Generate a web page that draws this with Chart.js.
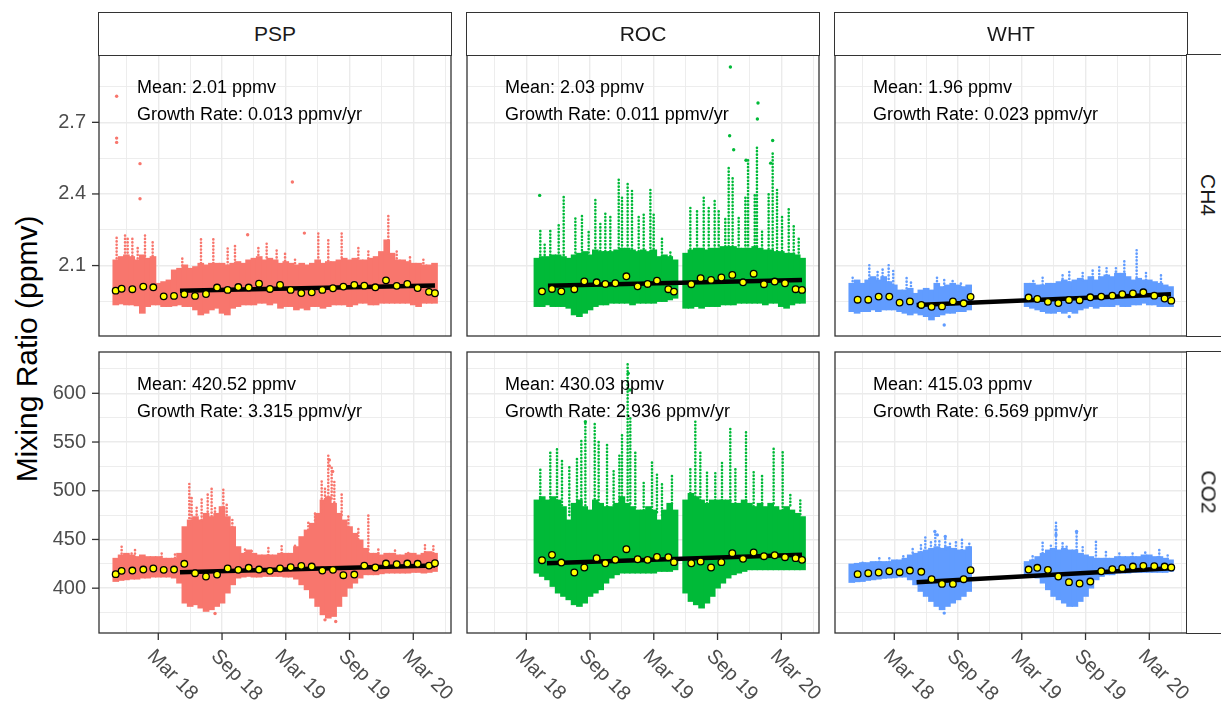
<!DOCTYPE html>
<html>
<head>
<meta charset="utf-8">
<script src="https://cdn.jsdelivr.net/npm/chart.js@4.4.1/dist/chart.umd.min.js"></script>
<style>
  html, body { margin: 0; padding: 0; background: #fff; }
  #page { position: relative; width: 1221px; height: 708px; overflow: hidden;
          font-family: "Liberation Sans", Arial, sans-serif; }
  #page canvas { position: absolute; }
  .strip { position: absolute; box-sizing: border-box; border: 1.3px solid #333; background: #fff;
           color: #1a1a1a; font-size: 21px; display: flex; align-items: center; justify-content: center; }
  .strip.side span { transform: rotate(90deg); white-space: nowrap; }
  #ytitle { position: absolute; left: 27px; top: 349px; transform: translate(-50%, -50%) rotate(-90deg);
            font-size: 30px; color: #000; white-space: nowrap; }
</style>
</head>
<body>
<div id="page"><div id="ytitle">Mixing Ratio (ppmv)</div></div>
<script>
// x values are months counted from Jan 2017 (Mar 18 = 14)
const stations = ['PSP', 'ROC', 'WHT'];
const gases = ['CH4', 'CO2'];
const stationColors = ['#F8766D', '#00BA38', '#619CFF'];

const xTickMonths = [11, 14, 17, 20, 23, 26, 29, 32, 35, 38, 41];
const xMajorMonths = [14, 20, 26, 32, 38];
const xMajorLabels = ['Mar 18', 'Sep 18', 'Mar 19', 'Sep 19', 'Mar 20'];
const ch4Ticks = [1.95, 2.1, 2.25, 2.4, 2.55, 2.7, 2.85];
const ch4Major = [2.1, 2.4, 2.7];
const co2Ticks = [375, 400, 425, 450, 475, 500, 525, 550, 575, 600, 625];
const co2Major = [400, 450, 500, 550, 600];

// half-month bins for the envelope of the raw observations
const bins = [10,10.5,11,11.5,12,12.5,13,13.5,14,14.5,15,15.5,16,16.5,17,17.5,18,18.5,19,19.5,20,20.5,
  21,21.5,22,22.5,23,23.5,24,24.5,25,25.5,26,26.5,27,27.5,28,28.5,29,29.5,30,30.5,31,31.5,32,32.5,
  33,33.5,34,34.5,35,35.5,36,36.5,37,37.5,38,38.5,39,39.5,40];
const N10 = [null,null,null,null,null,null,null,null,null,null];

const pspCh4High = [2.124,2.138,2.145,2.138,2.124,2.145,2.131,2.138,2.026,2.033,2.040,2.082,2.089,2.103,2.089,2.096,
  2.110,2.103,2.110,2.110,2.110,2.103,2.110,2.117,2.110,2.124,2.131,2.138,2.124,2.131,2.124,2.110,2.117,2.110,
  2.103,2.110,2.103,2.110,2.124,2.110,2.117,2.117,2.124,2.131,2.124,2.131,2.124,2.124,2.131,2.138,2.159,2.208,
  2.152,2.124,2.124,2.117,2.110,2.110,2.103,2.103,2.110];
const pspCh4Low = [1.935,1.939,1.935,1.935,1.931,1.900,1.928,1.935,1.935,1.928,1.928,1.931,1.935,1.928,1.928,1.914,
  1.893,1.900,1.914,1.921,1.900,1.893,1.921,1.928,1.935,1.935,1.935,1.942,1.942,1.935,1.942,1.921,1.928,1.928,
  1.914,1.921,1.914,1.928,1.928,1.921,1.928,1.935,1.935,1.935,1.928,1.935,1.942,1.942,1.935,1.935,1.942,1.942,
  1.942,1.942,1.942,1.942,1.935,1.928,1.942,1.942,1.942];
const rocCh4High = N10.concat([2.131,2.138,2.138,2.145,2.145,2.138,2.131,2.145,2.152,2.159,2.145,2.166,2.159,2.159,
  2.159,2.166,2.173,2.173,2.166,2.159,2.166,2.159,2.166,2.138,2.145,2.138,2.124,null,2.152,2.166,2.173,2.173,2.166,
  2.173,2.173,2.180,2.180,2.180,2.173,2.173,2.173,2.180,2.173,2.166,2.166,2.159,2.159,2.152,2.152,2.145,2.131]);
const rocCh4Low = N10.concat([1.928,1.928,1.935,1.928,1.928,1.928,1.921,1.893,1.886,1.900,1.914,1.928,1.935,1.935,
  1.942,1.942,1.942,1.942,1.935,1.942,1.942,1.942,1.942,1.949,1.949,1.956,1.963,null,1.921,1.921,1.928,1.921,1.928,
  1.928,1.928,1.935,1.935,1.935,1.942,1.942,1.942,1.942,1.942,1.935,1.942,1.942,1.928,1.921,1.935,1.942,1.942]);
const whtCh4High = [2.026,2.040,2.026,2.040,2.054,2.040,2.054,2.033,2.019,1.998,1.998,2.005,1.984,1.998,2.005,1.998,
  2.026,2.012,2.019,2.026,2.019,2.012,2.019].concat(N10, [2.026,2.026,2.019,2.019,2.026,2.026,2.033,2.040,2.033,
  2.040,2.047,2.040,2.054,2.040,2.054,2.061,2.054,2.068,2.068,2.054,2.040,2.047,2.040,2.040,2.033,2.026,2.019,2.012]);
const whtCh4Low = [1.907,1.900,1.907,1.907,1.914,1.907,1.914,1.914,1.914,1.907,1.900,1.893,1.900,1.893,1.886,1.872,
  1.886,1.893,1.900,1.900,1.907,1.907,1.914].concat(N10, [1.928,1.921,1.914,1.907,1.900,1.900,1.907,1.900,1.907,
  1.900,1.914,1.921,1.928,1.921,1.928,1.928,1.928,1.935,1.928,1.928,1.935,1.935,1.942,1.935,1.935,1.928,1.928,1.928]);

const pspCo2High = [430.8,434.2,435.9,434.2,432.5,434.2,432.5,432.5,432.5,430.8,430.8,430.8,435.9,463.2,470.1,473.5,
  470.1,476.9,473.5,476.9,483.8,473.5,463.2,442.7,435.9,439.3,435.9,434.2,434.2,434.2,434.2,435.9,435.9,435.9,
  442.7,453.0,459.8,466.7,476.9,490.6,494.0,487.2,476.9,470.1,463.2,456.4,449.6,441.0,435.9,435.9,434.2,435.9,
  435.9,434.2,434.2,435.9,435.9,434.2,435.9,437.6,435.9];
const pspCo2Low = [406.8,407.9,408.5,409.2,409.2,410.3,410.3,411.3,411.3,411.3,411.3,410.3,405.1,384.6,381.2,382.9,
  379.5,376.1,377.8,381.2,384.6,394.9,403.4,410.3,411.3,412.0,411.3,411.3,412.0,412.0,412.0,412.0,411.3,411.3,
  409.2,403.4,398.3,389.7,381.2,372.6,369.2,370.9,381.2,391.5,400.0,405.1,410.3,413.7,413.7,413.7,414.7,415.4,
  415.4,415.4,415.4,415.4,416.1,416.1,415.4,416.1,417.1];
const rocCo2High = N10.concat([490.6,494.0,490.6,494.0,490.6,483.8,470.1,487.2,490.6,483.8,480.3,490.6,487.2,483.8,
  483.8,487.2,494.0,487.2,483.8,480.3,480.3,483.8,480.3,470.1,480.3,487.2,480.3,null,490.6,497.4,494.0,490.6,487.2,
  490.6,490.6,490.6,490.6,487.2,487.2,490.6,487.2,483.8,487.2,483.8,487.2,483.8,480.3,483.8,480.3,476.9,473.5]);
const rocCo2Low = N10.concat([415.4,412.0,408.5,401.7,394.9,391.5,388.0,382.9,381.2,384.6,391.5,394.9,398.3,405.1,
  410.3,413.7,415.4,415.4,415.4,415.4,415.4,415.4,415.4,417.1,417.1,417.1,418.8,null,394.9,386.3,382.9,379.5,384.6,
  391.5,400.0,405.1,410.3,413.7,415.4,417.1,418.8,418.8,418.8,418.8,418.8,418.8,418.8,418.8,418.8,418.8,418.8]);
const whtCo2High = [424.9,425.6,426.3,426.3,427.4,427.4,427.4,427.4,429.1,429.1,430.8,434.2,435.9,437.6,439.3,441.0,
  442.7,441.0,442.7,441.0,439.3,439.3,442.7].concat(N10, [427.4,429.1,432.5,435.9,439.3,441.0,439.3,441.0,439.3,
  439.3,435.9,434.2,432.5,430.8,430.8,430.8,430.8,432.5,432.5,432.5,432.5,432.5,434.2,434.2,432.5,432.5,430.8,429.1]);
const whtCo2Low = [405.8,406.5,406.8,407.9,408.5,409.2,410.0,410.3,410.6,411.3,411.3,408.5,403.4,396.6,391.5,386.3,
  381.2,377.8,381.2,384.6,388.0,391.5,396.6].concat(N10, [413.7,412.6,410.3,405.1,398.3,391.5,388.0,384.6,381.2,
  381.2,386.3,391.5,400.0,408.5,412.0,413.7,413.7,415.4,415.4,415.4,416.1,416.1,416.1,416.1,416.1,416.1,416.1,417.1]);

// streaks of high readings above the dense band: [month, from, to]
const pspCh4Streaks = [[10.08,2.13,2.222],[10.87,2.14,2.229],[11.12,2.14,2.215],[11.56,2.14,2.222],[12.06,2.13,2.18],
  [12.75,2.14,2.238],[13.47,2.14,2.205],[16.26,2.10,2.14],[18.02,2.11,2.222],[19.18,2.11,2.222],[20.53,2.10,2.18],
  [21.22,2.11,2.194],[23.42,2.13,2.18],[24.2,2.12,2.205],[25.14,2.12,2.166],[25.93,2.12,2.152],[26.87,2.11,2.138],
  [29.06,2.12,2.243],[30.0,2.12,2.208],[31.26,2.12,2.236],[32.83,2.13,2.173],[33.77,2.13,2.159],[35.65,2.15,2.32],
  [36.44,2.13,2.166],[37.69,2.12,2.138],[38.95,2.11,2.138]];
const rocCh4Streaks = [[15.32,2.13,2.25],[15.73,2.13,2.194],[16.26,2.13,2.25],[17.05,2.14,2.278],[17.52,2.13,2.39],
  [18.62,2.14,2.306],[19.24,2.15,2.313],[19.87,2.14,2.25],[20.5,2.16,2.376],[20.97,2.16,2.278],[21.44,2.16,2.32],
  [21.91,2.16,2.306],[22.7,2.16,2.466],[23.01,2.17,2.39],[23.54,2.17,2.441],[23.95,2.17,2.417],[24.58,2.16,2.306],
  [25.05,2.17,2.32],[25.68,2.16,2.417],[25.99,2.17,2.32],[26.77,2.14,2.222],[27.56,2.14,2.166],[29.44,2.17,2.348],
  [30.07,2.17,2.334],[30.7,2.17,2.39],[31.17,2.17,2.348],[31.73,2.17,2.383],[32.11,2.17,2.334],[32.73,2.18,2.306],
  [33.05,2.18,2.515],[33.42,2.18,2.473],[33.99,2.17,2.306],[34.62,2.17,2.39],[34.87,2.17,2.543],[35.5,2.18,2.403],
  [35.71,2.18,2.602],[36.19,2.17,2.243],[36.81,2.17,2.403],[37.19,2.17,2.571],[37.6,2.16,2.417],[38.07,2.16,2.306],
  [38.7,2.15,2.348],[39.17,2.15,2.278],[39.64,2.14,2.222]];
const whtCh4Streaks = [[10.08,2.02,2.054],[11.65,2.03,2.103],[12.43,2.03,2.082],[12.9,2.04,2.089],[13.47,2.03,2.103],
  [13.9,2.02,2.082],[15.16,1.99,2.054],[15.57,2.0,2.04],[18.02,2.02,2.054],[18.7,2.01,2.04],[19.49,2.02,2.04],
  [20.27,2.01,2.026],[27.08,2.02,2.04],[27.96,2.02,2.054],[29.84,2.03,2.068],[30.47,2.03,2.082],[31.73,2.04,2.082],
  [32.67,2.05,2.082],[33.29,2.05,2.096],[33.98,2.06,2.089],[34.86,2.06,2.096],[35.65,2.06,2.124],[36.81,2.05,2.166],
  [37.69,2.04,2.082],[39.1,2.03,2.068]];
const pspCo2Streaks = [[10.55,432,442.7],[11.49,432,437.6],[11.81,432,439.3],[14.32,432,435.9],[15.57,431,435.9],
  [16.92,465,509.4],[17.14,468,494.0],[17.61,472,483.8],[18.08,470,494.0],[18.65,475,497.4],[19.02,474,502.6],
  [19.34,475,483.8],[20.12,480,504.3],[20.44,475,487.2],[20.97,463,470.0],[22.16,436,442.7],[22.79,438,441.0],
  [24.36,434,442.7],[25.61,436,444.4],[26.87,440,446.2],[28.12,460,470.0],[28.75,466,476.9],[29.38,478,511.1],
  [29.69,488,504.3],[30.0,494,538.5],[30.32,492,524.8],[30.57,488,511.1],[31.26,475,497.4],[31.89,463,476.9],
  [32.83,450,463.2],[33.77,436,475.2],[34.71,436,442.7],[36.28,435,441.0],[37.53,436,439.3],[39.1,437,444.4],
  [39.89,436,446.2]];
const rocCo2Streaks = [[15.32,490,524.8],[16.26,490,541.9],[16.89,490,545.3],[17.36,485,531.6],[18.05,475,524.8],
  [18.77,487,535.0],[19.18,488,552.1],[19.56,485,570.9],[20.44,488,569.2],[20.81,487,552.1],[21.6,484,548.7],
  [22.22,485,521.4],[22.76,487,538.5],[23.01,494,559.0],[23.54,490,630.8],[23.79,487,576.1],[24.26,483,541.9],
  [25.05,480,511.1],[25.83,480,531.6],[26.3,478,517.9],[26.77,475,507.7],[27.71,487,517.9],[29.44,494,524.8],
  [29.91,494,570.9],[30.38,490,541.9],[31.01,487,521.4],[31.79,490,521.4],[32.42,490,531.6],[33.2,490,565.8],
  [33.68,487,524.8],[34.68,490,562.4],[35.4,484,521.4],[36.19,487,517.9],[37.28,487,543.6],[38.13,480,541.9],
  [38.85,485,497.4],[39.79,476,490.6]];
const whtCo2Streaks = [[11.02,426,429.1],[12.59,427,432.5],[13.53,427,430.8],[14.85,429,435.9],[15.73,433,441.0],
  [16.51,437,444.4],[16.92,438,453.0],[17.45,440,449.6],[17.86,441,458.1],[18.24,441,449.6],[18.8,440,453.0],
  [19.24,442,447.9],[19.8,440,449.6],[20.37,439,451.3],[21.06,442,447.9],[27.02,429,435.9],[27.96,436,447.9],
  [28.74,440,446.2],[29.22,439,468.4],[29.84,439,447.9],[30.22,439,444.4],[31.16,439,458.1],[31.73,435,442.7],
  [32.98,430,449.6],[33.92,430,439.3],[35.18,432,437.6],[36.43,432,435.9],[37.62,433,437.6],[38.94,432,439.3],
  [39.73,430,434.2]];

// isolated readings: [month, value]
const pspCh4Outliers = [[10.08,2.809],[10.08,2.634],[10.08,2.616],[12.28,2.527],[12.28,2.38],[26.62,2.45],[27.75,2.236],[22.41,2.229]];
const rocCh4Outliers = [[15.26,2.394],[33.21,2.932],[35.81,2.781],[35.75,2.714],[33.14,2.644],[33.52,2.585],
  [34.68,2.541],[37.19,2.624],[37.0,2.529]];
const whtCh4Outliers = [[18.7,1.851],[30.47,1.886]];
const pspCo2Outliers = [[30.1,531.6],[30.1,525.5],[30.41,519.7],[29.69,367.5],[30.7,365.8],[19.34,374.0]];
const rocCo2Outliers = [[23.6,620.5],[23.75,603.4],[19.56,570.9]];
const whtCo2Outliers = [[17.82,458.1],[18.05,454.7],[18.8,453.0],[29.22,459.8],[29.22,454.7],[31.16,458.1],[18.7,374.4]];

// monthly means
const pspMonths = [9.99,10.55,11.56,12.59,13.53,14.51,15.48,16.45,17.46,18.49,19.53,20.53,21.53,22.51,23.48,24.51,
  25.46,26.46,27.46,28.44,29.44,30.44,31.42,32.45,33.39,34.43,35.43,36.44,37.44,38.41,39.48,40.04];
const rocMonths = [15.48,16.42,17.3,18.52,19.46,20.62,21.44,22.38,23.42,24.48,25.42,26.3,27.37,27.9,29.53,30.41,
  31.39,32.36,33.39,34.4,35.4,36.37,37.38,38.35,39.35,39.95];
const whtMonths = [10.55,11.55,12.53,13.53,14.5,15.47,16.54,17.51,18.49,19.52,20.53,21.18,26.64,27.46,28.46,29.44,
  30.44,31.44,32.45,33.48,34.52,35.46,36.46,37.44,38.47,39.44,40.07];
const pspCh4Mean = [1.995,2.003,2.001,2.012,2.009,1.971,1.973,1.98,1.973,1.981,2.008,1.998,2.01,2.008,2.024,2.002,
  2.019,1.998,1.985,1.988,1.998,2.005,2.012,2.019,2.016,2.009,2.038,2.015,2.023,2.006,1.99,1.984];
const rocCh4Mean = [1.992,2.002,1.992,2.001,2.034,2.03,2.023,2.026,2.055,2.013,2.023,2.037,2.001,1.991,2.022,2.047,
  2.04,2.05,2.061,2.03,2.066,2.022,2.033,2.026,2.001,1.998];
const whtCh4Mean = [1.957,1.957,1.97,1.97,1.945,1.95,1.935,1.927,1.929,1.95,1.942,1.969,1.966,1.96,1.948,1.943,
  1.956,1.955,1.967,1.97,1.974,1.98,1.983,1.988,1.974,1.962,1.953];
const pspCo2Mean = [414.4,417.8,418.1,419.1,420.2,418.8,419.1,425.0,415.4,412.0,414.0,420.2,418.8,420.9,419.1,417.8,
  420.2,421.5,422.9,422.2,418.1,418.8,413.3,414.0,423.2,421.2,425.3,424.6,425.3,425.0,423.2,425.6];
const rocCo2Mean = [428.7,434.2,426.3,416.1,421.2,430.8,425.6,429.1,440.0,429.7,429.1,432.1,431.8,426.7,425.6,427.4,
  421.2,426.7,435.9,430.1,436.6,432.8,433.8,431.8,430.8,429.1];
const whtCo2Mean = [414.4,415.4,416.1,417.4,416.4,418.1,416.8,409.2,404.4,404.4,409.2,418.5,419.1,420.9,418.8,412.0,
  406.2,404.8,406.8,417.4,419.5,420.5,422.2,422.9,422.6,422.2,421.2];

// fitted trend lines: start and end
const pspCh4TrendX = [16.04, 40.04], pspCh4TrendY = [1.995, 2.017];
const rocCh4TrendX = [16.04, 39.95], rocCh4TrendY = [2.015, 2.040];
const whtCh4TrendX = [16.10, 40.04], whtCh4TrendY = [1.935, 1.980];
const pspCo2TrendX = [16.04, 40.04], pspCo2TrendY = [416.4, 423.2];
const rocCo2TrendX = [15.95, 39.95], rocCo2TrendY = [425.6, 434.2];
const whtCo2TrendX = [16.10, 40.04], whtCo2TrendY = [406.2, 420.5];

const meanText = [['2.01', '2.03', '1.96'], ['420.52', '430.03', '415.03']];
const rateText = [['0.013', '0.011', '0.023'], ['3.315', '2.936', '6.569']];

const panels = [
  [
    {high: pspCh4High, low: pspCh4Low, streaks: pspCh4Streaks, out: pspCh4Outliers, mx: pspMonths, my: pspCh4Mean, tx: pspCh4TrendX, ty: pspCh4TrendY},
    {high: rocCh4High, low: rocCh4Low, streaks: rocCh4Streaks, out: rocCh4Outliers, mx: rocMonths, my: rocCh4Mean, tx: rocCh4TrendX, ty: rocCh4TrendY},
    {high: whtCh4High, low: whtCh4Low, streaks: whtCh4Streaks, out: whtCh4Outliers, mx: whtMonths, my: whtCh4Mean, tx: whtCh4TrendX, ty: whtCh4TrendY}
  ],
  [
    {high: pspCo2High, low: pspCo2Low, streaks: pspCo2Streaks, out: pspCo2Outliers, mx: pspMonths, my: pspCo2Mean, tx: pspCo2TrendX, ty: pspCo2TrendY},
    {high: rocCo2High, low: rocCo2Low, streaks: rocCo2Streaks, out: rocCo2Outliers, mx: rocMonths, my: rocCo2Mean, tx: rocCo2TrendX, ty: rocCo2TrendY},
    {high: whtCo2High, low: whtCo2Low, streaks: whtCo2Streaks, out: whtCo2Outliers, mx: whtMonths, my: whtCo2Mean, tx: whtCo2TrendX, ty: whtCo2TrendY}
  ]
];
const yRanges = [[1.805, 2.982], [354.0, 642.4]];

// layout
const FONT = '"Liberation Sans", Arial, sans-serif';
const PADL = 60, PADB = 80, PADT = 2, PADR = 2, PW = 352, PH = 281;
const colLeft = [99, 467, 835];
const rowTop = [55, 352];

const near = (arr, v) => arr.some(a => Math.abs(a - v) < 1e-6);

const facetDecor = {
  id: 'facetDecor',
  afterDraw(chart, args, o) {
    const {ctx, chartArea: a} = chart;
    const xs = chart.scales.x, ys = chart.scales.y;
    ctx.save();
    ctx.fillStyle = '#000';
    ctx.font = '18px ' + FONT;
    ctx.textAlign = 'left';
    ctx.textBaseline = 'alphabetic';
    o.notes.forEach((t, i) => ctx.fillText(t, a.left + 38, a.top + 38 + i * 26.5));

    ctx.strokeStyle = '#333';
    ctx.lineWidth = 1.3;
    ctx.strokeRect(a.left, a.top, a.right - a.left, a.bottom - a.top);

    ctx.fillStyle = '#4D4D4D';
    ctx.font = '20px ' + FONT;
    if (o.left) {
      ctx.textAlign = 'right';
      ctx.textBaseline = 'middle';
      o.yMajor.forEach(v => {
        const py = ys.getPixelForValue(v);
        ctx.beginPath(); ctx.moveTo(a.left - 7, py); ctx.lineTo(a.left, py); ctx.stroke();
        ctx.fillText(String(v), a.left - 13, py);
      });
    }
    if (o.bottom) {
      ctx.textAlign = 'left';
      ctx.textBaseline = 'middle';
      xMajorMonths.forEach((v, i) => {
        const px = xs.getPixelForValue(v);
        ctx.beginPath(); ctx.moveTo(px, a.bottom); ctx.lineTo(px, a.bottom + 7); ctx.stroke();
        ctx.save();
        ctx.translate(px - 8, a.bottom + 20);
        ctx.rotate(Math.PI / 4);
        ctx.fillText(xMajorLabels[i], 0, 0);
        ctx.restore();
      });
    }
    ctx.restore();
  }
};

const page = document.getElementById('page');

function makePanel(r, c) {
  const p = panels[r][c];
  const color = stationColors[c];
  const yTicks = r === 0 ? ch4Ticks : co2Ticks;
  const yMajor = r === 0 ? ch4Major : co2Major;

  const cv = document.createElement('canvas');
  const w = PADL + PW + PADR, h = PADT + PH + PADB;
  cv.width = w; cv.height = h;
  cv.style.width = w + 'px'; cv.style.height = h + 'px';
  cv.style.left = (colLeft[c] - PADL) + 'px';
  cv.style.top = (rowTop[r] - PADT) + 'px';
  page.appendChild(cv);

  const core = [];
  bins.forEach((m, i) => {
    if (p.low[i] != null && p.high[i] != null) core.push({x: m, y: [p.low[i], p.high[i]]});
  });
  const streaks = [];
  p.streaks.forEach(s => {
    streaks.push({x: s[0], y: s[1]}, {x: s[0], y: s[2]}, {x: s[0], y: null});
  });
  const outliers = p.out.map(o => ({x: o[0], y: o[1]}));
  const means = p.mx.map((m, i) => ({x: m, y: p.my[i]}));
  const trend = p.tx.map((m, i) => ({x: m, y: p.ty[i]}));

  const gridOpts = majors => ({
    color: '#EBEBEB',
    lineWidth: ctx => (ctx.tick && near(majors, ctx.tick.value)) ? 1.4 : 0.9,
    drawTicks: false,
    offset: false
  });

  new Chart(cv.getContext('2d'), {
    type: 'bar',
    data: {
      datasets: [
        {type: 'line', data: means, showLine: false, pointRadius: 3.3, pointBackgroundColor: '#FFFF00',
         pointBorderColor: '#000', pointBorderWidth: 1.3, order: 0},
        {type: 'line', data: trend, borderColor: '#000', borderWidth: 4.5, pointRadius: 0,
         borderCapStyle: 'butt', order: 1},
        {type: 'line', data: outliers, showLine: false, pointRadius: 1.7, pointBackgroundColor: color,
         pointBorderWidth: 0, order: 2},
        {type: 'line', data: streaks, borderColor: color, borderWidth: 2.6, borderDash: [0.1, 3.3],
         borderCapStyle: 'round', pointRadius: 0, spanGaps: false, order: 3},
        {type: 'bar', data: core, backgroundColor: color, borderWidth: 0, barThickness: 6,
         grouped: false, order: 4}
      ]
    },
    options: {
      responsive: false,
      maintainAspectRatio: false,
      animation: false,
      events: [],
      layout: {autoPadding: false, padding: {left: 0, top: PADT, right: PADR, bottom: 0}},
      scales: {
        x: {
          type: 'linear', min: 8.42, max: 41.55, offset: false,
          afterBuildTicks: s => { s.ticks = xTickMonths.map(v => ({value: v})); },
          afterFit: s => { s.height = PADB; },
          ticks: {display: false},
          grid: gridOpts(xMajorMonths),
          border: {display: false}
        },
        y: {
          type: 'linear', min: yRanges[r][0], max: yRanges[r][1],
          afterBuildTicks: s => { s.ticks = yTicks.map(v => ({value: v})); },
          afterFit: s => { s.width = PADL; },
          ticks: {display: false},
          grid: gridOpts(yMajor),
          border: {display: false}
        }
      },
      plugins: {
        legend: {display: false},
        tooltip: {enabled: false},
        facetDecor: {
          left: c === 0, bottom: r === 1, yMajor: yMajor,
          notes: ['Mean: ' + meanText[r][c] + ' ppmv', 'Growth Rate: ' + rateText[r][c] + ' ppmv/yr']
        }
      }
    },
    plugins: [facetDecor]
  });
}

for (let r = 0; r < 2; r++) for (let c = 0; c < 3; c++) makePanel(r, c);

// facet strips
stations.forEach((s, c) => {
  const d = document.createElement('div');
  d.className = 'strip';
  d.style.left = (colLeft[c] - 0.65) + 'px';
  d.style.top = '12px';
  d.style.width = (PW + 1.3) + 'px';
  d.style.height = (rowTop[0] - 12 + 0.65) + 'px';
  d.textContent = s;
  page.appendChild(d);
});
gases.forEach((g, r) => {
  const d = document.createElement('div');
  d.className = 'strip side';
  d.style.left = (colLeft[2] + PW - 0.65) + 'px';
  d.style.top = (rowTop[r] - 0.65) + 'px';
  d.style.width = '44px';
  d.style.height = (PH + 1.3) + 'px';
  const sp = document.createElement('span');
  sp.textContent = g;
  d.appendChild(sp);
  page.appendChild(d);
});
</script>
</body>
</html>
